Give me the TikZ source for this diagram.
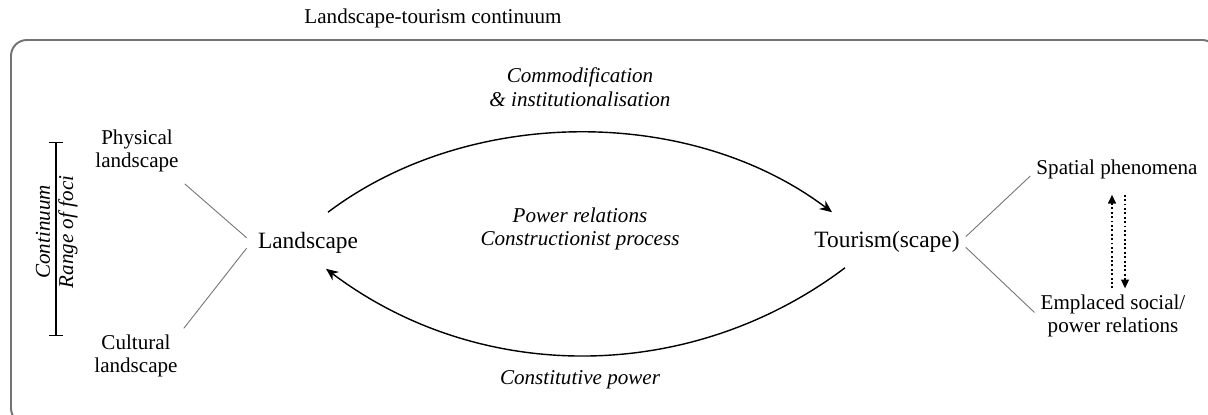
\documentclass[tikz,border=0pt]{standalone}
\usepackage{fontspec}
\setmainfont{Liberation Serif}
\usetikzlibrary{arrows.meta,positioning,calc}

\begin{document}
\begin{tikzpicture}[
        txt/.style = {align=center, font=\fontsize{12}{13.5}\selectfont},
        itxt/.style = {txt, font=\fontsize{12}{13.5}\selectfont\itshape},
        core/.style = {align=center, font=\fontsize{13.3}{16}\selectfont},
        arc/.style = {-{Stealth[length=7pt,width=6pt]}, line width=0.8pt, draw=black},
        dotarr/.style = {-{Triangle[length=5pt,width=4.5pt]}, dash pattern=on 1.1pt off 1.4pt, line width=0.8pt, draw=black},
        link/.style = {line width=0.5pt, draw=black!55},
        frame/.style = {line width=1.1pt, draw=black!55, rounded corners=9pt}
    ]
        \useasboundingbox (0,0) rectangle (24.16,8.28);

        % Outer frame and title
        \draw[frame] (0.22,-0.2) rectangle (24.36,7.48);
        \node[txt] (title) at (8.66,7.92) {Landscape-tourism continuum};

        % Left range of foci
        \draw[{Bar[width=8pt]}-{Bar[width=8pt]}, line width=0.8pt] (1.12,1.56) -- (1.12,5.44);
        \node[itxt, rotate=90] (cont) at (0.86,3.64) {Continuum};
        \node[itxt, rotate=90] (foci) at (1.36,3.64) {Range of foci};
        \node[txt] (phys) at (2.74,5.26) {Physical\\landscape};
        \node[txt] (cult) at (2.72,1.16) {Cultural\\landscape};

        % Center Nodes
        \node[core] (land) at (6.16,3.42) {Landscape};
        \node[core] (tour) at (17.74,3.44) {Tourism(scape)};
        \node[itxt] (comm) at (11.6,6.54) {Commodification\\\& institutionalisation};
        \node[itxt] (powr) at (11.6,3.7) {Power relations\\Constructionist process};
        \node[itxt] (cons) at (11.6,0.68) {Constitutive power};

        % Right side
        \node[txt] (spat) at (22.34,4.9) {Spatial phenomena};
        \node[txt] (empl) at (22.26,1.96) {Emplaced social/\\power relations};

        % Links
        \draw[link] ([yshift=-3pt]phys.south east) -- ([xshift=-3pt,yshift=3pt]land.west);
        \draw[link] (cult.north east) -- ([xshift=-3pt,yshift=-3pt]land.west);
        \draw[link] ([yshift=3pt]tour.east) -- ([yshift=-4pt]spat.west);
        \draw[link] ([yshift=-3pt]tour.east) -- ([yshift=2pt]empl.west);

        % Arcs
        \draw[arc] ([xshift=0.4cm,yshift=0.28cm]land.north) to[out=37, in=143, looseness=0.9] ([xshift=-1.1cm,yshift=0.26cm]tour.north);
        \draw[arc] ([xshift=-0.84cm,yshift=-0.18cm]tour.south) to[out=-143, in=-37, looseness=0.95] ([xshift=0.36cm,yshift=-0.18cm]land.south);

        % Dotted arrows
        \coordinate (upA) at ($(spat.south)+(-0.1,0)$);
        \coordinate (dnA) at ($(spat.south)+(0.16,0)$);
        \draw[dotarr, shorten >=0.2cm] (upA |- empl.north) -- (upA);
        \draw[dotarr, shorten <=0.2cm] (dnA) -- (dnA |- empl.north);

    \end{tikzpicture}
\end{document}
